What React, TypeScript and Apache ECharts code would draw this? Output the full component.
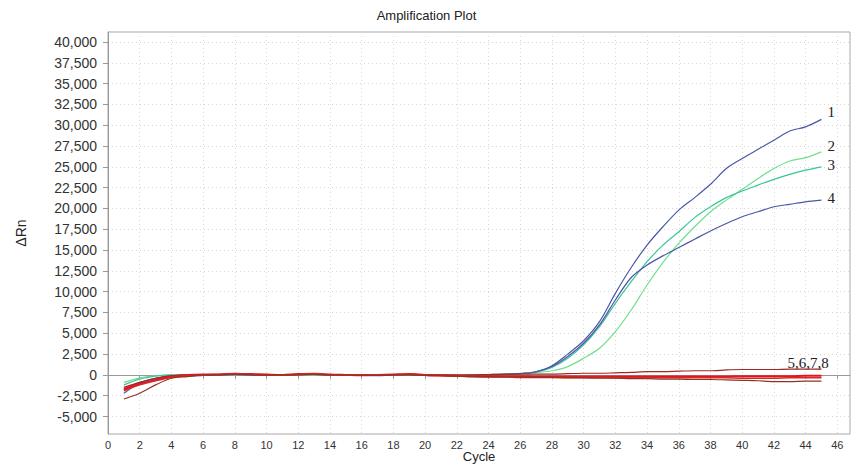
import React, { useEffect, useRef } from "react";
import * as echarts from "echarts";

const cycles = [1, 2, 3, 4, 5, 6, 7, 8, 9, 10, 11, 12, 13, 14, 15, 16, 17, 18, 19, 20, 21, 22, 23, 24, 25, 26, 27, 28, 29, 30, 31, 32, 33, 34, 35, 36, 37, 38, 39, 40, 41, 42, 43, 44, 45];

const yTicks = [-5000, -2500, 0, 2500, 5000, 7500, 10000, 12500, 15000, 17500, 20000, 22500, 25000, 27500, 30000, 32500, 35000, 37500, 40000];

const curve1 = [-2200, -1000, -450, -150, -100, -50, 0, 100, 50, 0, 50, 100, 50, 0, 0, -50, 0, 50, 0, -50, -50, -100, -50, 0, 50, 150, 400, 1100, 2500, 4100, 6400, 9800, 12900, 15600, 17800, 19800, 21300, 22900, 24800, 26000, 27100, 28200, 29300, 29800, 30700];
const curve2 = [-900, -350, -100, 0, 50, 50, 0, 50, 0, 0, 50, 50, 0, 0, -50, 0, 0, 50, 0, 0, -50, -50, 0, 50, 100, 200, 300, 500, 1000, 2000, 3200, 5200, 7800, 10800, 13500, 15800, 17800, 19600, 21000, 22300, 23600, 24800, 25700, 26100, 26800];
const curve3 = [-1200, -500, -150, 0, 0, 50, 50, 100, 50, 0, 0, 50, 50, 0, 0, -50, 0, 0, 50, 0, -50, -50, 0, 50, 100, 150, 350, 900, 2000, 3600, 5800, 8600, 11200, 13600, 15600, 17200, 18900, 20200, 21300, 22100, 22800, 23500, 24100, 24600, 25000];
const curve4 = [-1800, -900, -400, -100, -150, -50, 0, 50, 0, -50, 0, 50, 100, 50, 0, -50, -100, 0, 100, 0, -50, -100, -50, 0, 50, 150, 350, 1000, 2200, 3800, 6000, 9000, 11700, 13200, 14300, 15300, 16300, 17300, 18200, 19000, 19600, 20200, 20500, 20800, 21000];
const curve5 = [-1500, -900, -400, -100, 0, 0, 50, 100, 50, 0, 0, 50, 50, 0, 0, 0, 0, 50, 50, 0, 0, 0, 0, 50, 100, 100, 100, 100, 150, 200, 200, 250, 300, 400, 400, 450, 500, 500, 600, 650, 650, 650, 700, 700, 700];
const curve6 = [-1700, -1100, -600, -200, 0, 50, 50, 150, 100, 50, 0, 100, 150, 50, 0, -50, 0, 50, 100, 0, -50, -100, -150, -150, -150, -150, -200, -200, -200, -200, -200, -200, -200, -200, -200, -200, -200, -200, -200, -150, -150, -150, -150, -100, -100];
const curve7 = [-1900, -1200, -700, -300, -100, 0, 50, 100, 50, 0, 0, 50, 100, 0, -50, -50, -50, 0, 50, -50, -100, -150, -200, -250, -250, -300, -300, -300, -300, -300, -300, -350, -350, -350, -350, -350, -350, -350, -350, -400, -400, -400, -350, -350, -350];
const curve8 = [-2900, -2200, -1200, -400, -200, 0, 0, 50, 0, 0, 0, 0, 50, 0, 0, -50, -50, 0, 0, -50, -100, -150, -200, -200, -250, -250, -300, -300, -350, -350, -400, -400, -450, -450, -500, -500, -550, -550, -600, -650, -700, -800, -800, -750, -750];

const seriesDefs = [
  { name: "1", data: curve1, color: "#4a58a6", width: 1.2, label: "1", offset: [2, -7] },
  { name: "2", data: curve2, color: "#6ee08e", width: 1.2, label: "2", offset: [2, -6] },
  { name: "3", data: curve3, color: "#3cc49c", width: 1.2, label: "3", offset: [2, -2] },
  { name: "4", data: curve4, color: "#4a58a6", width: 1.2, label: "4", offset: [2, -2] },
  { name: "5", data: curve5, color: "#9a2a22", width: 1.2, label: "", offset: [0, 0] },
  { name: "6", data: curve6, color: "#e8141a", width: 2, label: "", offset: [0, 0] },
  { name: "7", data: curve7, color: "#d42a2a", width: 1.5, label: "5,6,7,8", offset: [-38, -15] },
  { name: "8", data: curve8, color: "#8e3426", width: 1.2, label: "", offset: [0, 0] },
];

export default function App() {
  const ref = useRef<HTMLDivElement>(null);
  useEffect(() => {
    if (!ref.current) return;
    const chart = echarts.init(ref.current, null, { renderer: "svg" });
    const gridLine = { show: true, lineStyle: { color: "#d8d8d8", type: [1, 3] as any, width: 1 } };
    chart.setOption({
      animation: false,
      backgroundColor: "#ffffff",
      title: {
        text: "Amplification Plot",
        left: "center",
        top: 4,
        textStyle: { fontFamily: "Liberation Sans, Arial", fontSize: 13, fontWeight: "normal", color: "#222" },
      },
      grid: {
        left: 108,
        right: 3,
        top: 32,
        bottom: 31,
        show: true,
        borderColor: "#a8a8a8",
        borderWidth: 1,
        containLabel: false,
        outerBoundsMode: "none",
      },
      xAxis: {
        type: "value",
        min: 0,
        max: 46.8,
        interval: 2,
        name: "Cycle",
        nameLocation: "middle",
        nameGap: 16,
        nameMoveOverlap: false,
        nameTextStyle: { fontFamily: "Liberation Sans, Arial", fontSize: 13, color: "#222", verticalAlign: "top" },
        axisLine: { show: true, lineStyle: { color: "#999" } },
        axisTick: { show: true, length: 4, lineStyle: { color: "#999" } },
        axisLabel: { fontFamily: "Liberation Sans, Arial", fontSize: 11, color: "#333", margin: 5 },
        splitLine: gridLine,
      },
      yAxis: {
        type: "value",
        min: -7100,
        max: 41200,
        name: "ΔRn",
        nameLocation: "middle",
        nameGap: 80,
        nameMoveOverlap: false,
        nameRotate: 90,
        nameTextStyle: { fontFamily: "Liberation Sans, Arial", fontSize: 14, color: "#222" },
        axisLine: { show: true, lineStyle: { color: "#999" } },
        axisTick: { show: true, length: 5, lineStyle: { color: "#999" }, customValues: yTicks },
        axisLabel: {
          fontFamily: "Liberation Sans, Arial",
          fontSize: 14,
          color: "#333",
          margin: 11,
          customValues: yTicks,
          formatter: (v: number) => v.toLocaleString("en-US"),
        },
        splitLine: gridLine,
      },
      series: seriesDefs.map((s) => ({
        name: s.name,
        type: "line",
        showSymbol: false,
        smooth: 0.3,
        data: s.data.map((v, i) => [cycles[i], v]),
        lineStyle: { color: s.color, width: s.width },
        itemStyle: { color: s.color },
        endLabel: {
          show: s.label !== "",
          formatter: s.label,
          distance: 4,
          offset: s.offset,
          fontFamily: "Liberation Serif, Times New Roman, serif",
          fontSize: 15,
          color: "#222",
        },
      })),
    });
    return () => chart.dispose();
  }, []);
  return <div ref={ref} style={{ position: "fixed", left: 0, top: 0, width: 853, height: 465 }} />;
}
